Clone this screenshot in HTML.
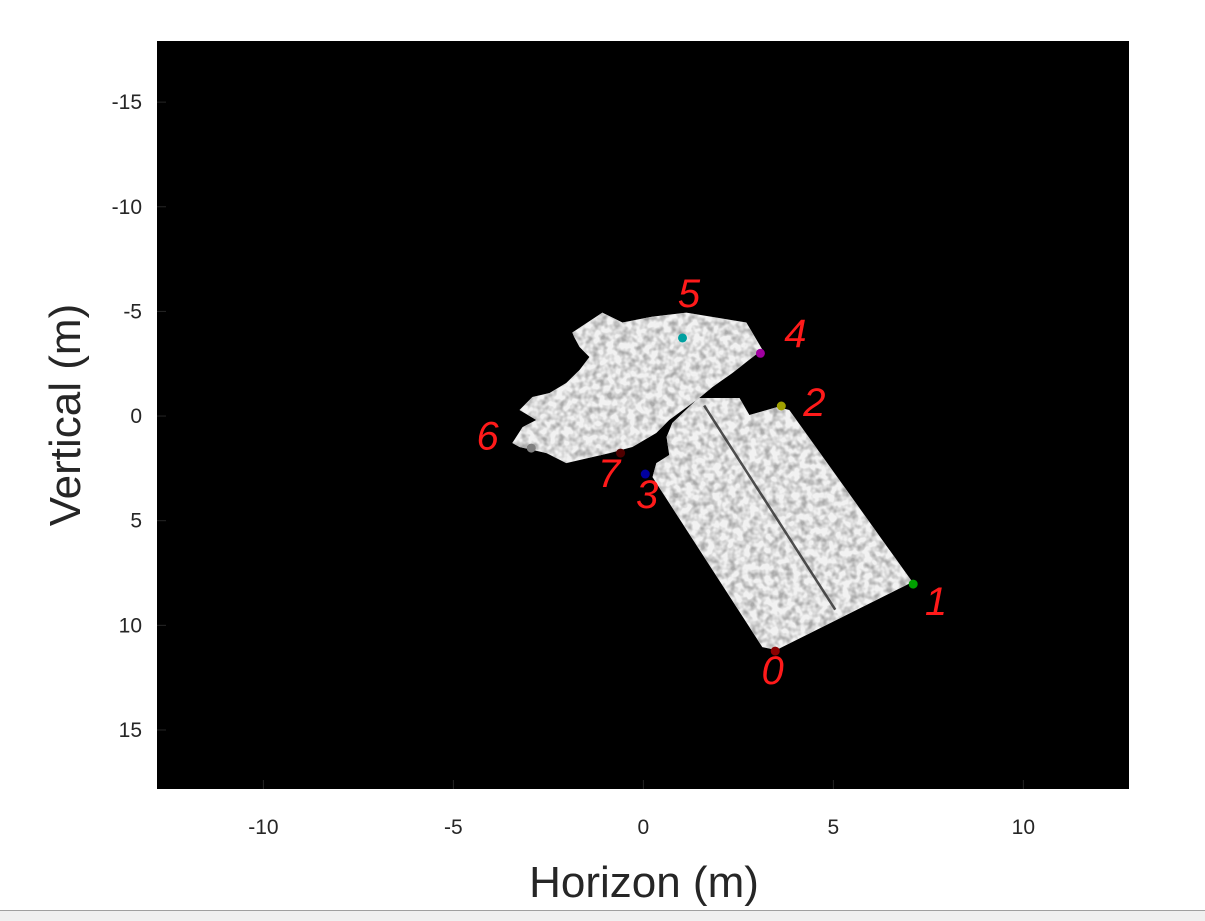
<!DOCTYPE html>
<html><head><meta charset="utf-8"><style>
html,body{margin:0;padding:0;background:#fff;width:1205px;height:921px;overflow:hidden;font-family:"Liberation Sans",Arial,sans-serif}
</style></head><body>
<svg id="chart" width="1205" height="921" xmlns="http://www.w3.org/2000/svg">
<defs>
<filter id="tex" x="0" y="0" width="1" height="1">
<feTurbulence type="fractalNoise" baseFrequency="0.14" numOctaves="2" seed="3" result="n"/>
<feColorMatrix in="n" type="matrix" values="0 0 0 0 0.4  0 0 0 0 0.4  0 0 0 0 0.4  0 0 0 -2.4 1.5" result="m"/>
<feComposite in="m" in2="SourceGraphic" operator="in"/>
</filter>
</defs>
<rect x="157" y="41" width="972" height="748" fill="#000"/>
<g id="img"></g>
<g id="marks"></g>
<g id="notes"></g>
<g id="axes"></g>
<text x="644" y="897" text-anchor="middle" font-size="44" fill="#262626">Horizon (m)</text>
<text transform="translate(80,415) rotate(-90)" text-anchor="middle" font-size="44" fill="#262626">Vertical (m)</text>
<rect x="0" y="910" width="1205" height="11" fill="#f0f0f0"/>
<line x1="0" y1="910.5" x2="1205" y2="910.5" stroke="#a0a0a0"/>
</svg>
<script>
const xTicks=[-10,-5,0,5,10];
const yTicks=[-15,-10,-5,0,5,10,15];
const markerX=[3.47,7.1,3.63,0.05,3.08,1.03,-2.95,-0.6];
const markerY=[11.23,8.03,-0.48,2.77,-3.0,-3.73,1.53,1.77];
const markerColors=["#8b0000","#00a000","#a0a000","#0000a0","#a000a0","#00a0a0","#808080","#500000"];
const noteLabels=["0","1","2","3","4","5","6","7"];
const noteX=[3.4,7.7,4.5,0.1,4.0,1.2,-4.1,-0.9];
const noteY=[12.8,9.5,0.0,4.4,-3.3,-5.2,1.6,3.4];
const lowerPolyX=[1.47,2.53,2.79,3.53,3.84,7.08,3.5,3.13,0.24,0.34,0.68,0.61,0.76,1.39];
const lowerPolyY=[-0.86,-0.86,-0.05,-0.43,-0.29,7.93,11.18,11.04,2.92,2.25,1.86,1.0,0.33,-0.76];
const upperPolyX=[-1.87,-1.08,-0.55,0.24,1.13,2.71,3.13,2.34,1.82,1.47,0.68,0.34,-0.29,-0.89,-2.03,-2.55,-3.26,-3.45,-3.18,-2.82,-3.26,-2.92,-2.47,-2.03,-1.68,-1.42,-1.68,-1.82];
const upperPolyY=[-3.99,-4.94,-4.47,-4.75,-4.94,-4.47,-3.18,-2.05,-1.39,-0.86,0.19,0.81,1.48,1.77,2.25,1.77,1.48,1.29,0.53,0.19,-0.29,-0.91,-1.1,-1.58,-2.2,-2.82,-3.3,-3.77];
const xMin=-12.8,xMax=12.78,yMin=-17.92,yMax=17.82;
const L=157,R=1129,T=41,B=789;
function sx(v){return L+(v-xMin)/(xMax-xMin)*(R-L);}
function sy(v){return T+(v-yMin)/(yMax-yMin)*(B-T);}
const NS="http://www.w3.org/2000/svg";
function mk(tag,parent,attrs){const e=document.createElementNS(NS,tag);for(const k in attrs)e.setAttribute(k,attrs[k]);parent.appendChild(e);return e;}
const img=document.getElementById('img');
function poly(xs,ys,name){
  const pts=xs.map((v,i)=>sx(v)+','+sy(ys[i])).join(' ');
  const p=mk('polygon',img,{points:pts,fill:'#f2f2f2'});
  
  
  const t=mk('polygon',img,{points:pts,fill:'#fff',filter:'url(#tex)'});
  
  
}
poly(upperPolyX,upperPolyY,'upper-region');
poly(lowerPolyX,lowerPolyY,'lower-region');
const seam=mk('line',img,{x1:sx(1.6),y1:sy(-0.5),x2:sx(5.05),y2:sy(9.25),stroke:'#333','stroke-width':2.5,opacity:0.85});


const marks=document.getElementById('marks');
markerX.forEach((v,i)=>{
  const c=mk('circle',marks,{cx:sx(v),cy:sy(markerY[i]),r:4.5,fill:markerColors[i]});
  
  
});
const notes=document.getElementById('notes');
noteLabels.forEach((s,i)=>{
  const t=mk('text',notes,{x:sx(noteX[i]),y:sy(noteY[i]),'text-anchor':'middle','font-size':40,fill:'#ff1a1a','font-family':'"Liberation Sans",sans-serif','font-style':'italic'});
  t.textContent=s;
  
  
});
const axes=document.getElementById('axes');
xTicks.forEach(v=>{
  const t=mk('text',axes,{x:sx(v),y:834,'text-anchor':'middle','font-size':21,fill:'#262626'});
  t.textContent=v;
  
  
  const l=mk('line',axes,{x1:sx(v),y1:B,x2:sx(v),y2:B-9,stroke:'#262626'});
  
  
});
yTicks.forEach(v=>{
  const t=mk('text',axes,{x:142,y:sy(v)+7,'text-anchor':'end','font-size':21,fill:'#262626'});
  t.textContent=v;
  
  
  const l=mk('line',axes,{x1:L,y1:sy(v),x2:L+9,y2:sy(v),stroke:'#262626'});
  
  
});
</script>
</body></html>
